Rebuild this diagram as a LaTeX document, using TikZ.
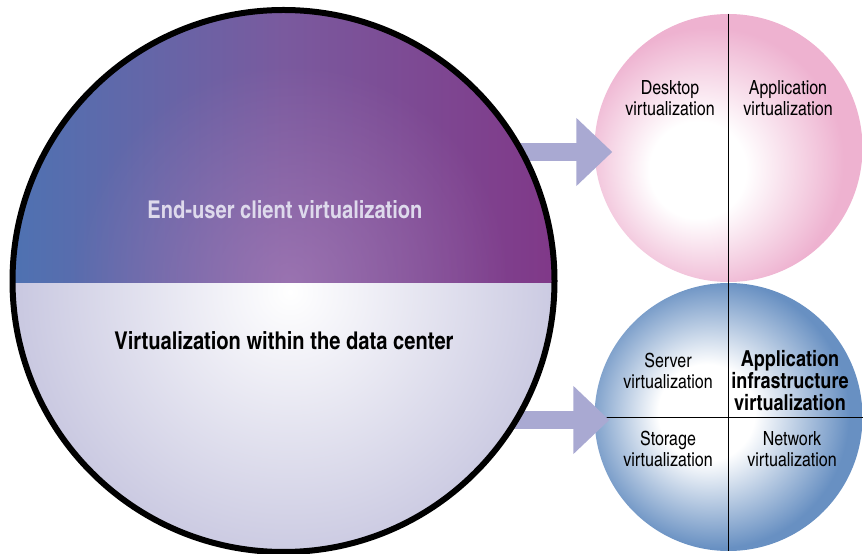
\documentclass[tikz,border=0pt]{standalone}
\usepackage{fontspec}
\setmainfont{texgyreheroscn}[Extension=.otf,UprightFont=*-regular,BoldFont=*-bold]
\usetikzlibrary{arrows.meta,calc,positioning,fadings}

\definecolor{cliblue}{HTML}{4E72B2}
\definecolor{clipurple}{HTML}{803888}
\definecolor{climid}{HTML}{7A5A9E}
\definecolor{cliglow}{HTML}{B488C0}
\definecolor{dclav}{HTML}{C6C5DF}
\definecolor{pinkedge}{HTML}{EEB2D0}
\definecolor{blueedge}{HTML}{6890C2}
\definecolor{flowcol}{HTML}{A9A9D2}
\definecolor{clitext}{HTML}{DEDAEC}

% soft balls for the two small circles
\pgfdeclareradialshading{pinkball}{\pgfpoint{-7bp}{-5bp}}{color(0bp)=(white); color(9bp)=(white); color(25bp)=(pinkedge); color(50bp)=(pinkedge)}
\pgfdeclareradialshading{blueball}{\pgfpoint{-5bp}{1bp}}{color(0bp)=(white); color(9bp)=(white); color(25bp)=(blueedge); color(50bp)=(blueedge)}
\tikzfading[name=glow, inner color=transparent!0, outer color=transparent!100]

\begin{document}
\begin{tikzpicture}[x=1pt,y=1pt,
  flow/.style={draw=flowcol,line width=18pt,-{Triangle[length=36pt,width=66pt]}},
  ring/.style={line width=6pt},
  lbl/.style={font=\fontsize{19.5}{21}\selectfont,align=center,inner sep=0pt},
  lblbold/.style={font=\bfseries\fontsize{22}{22}\selectfont,align=center,inner sep=0pt},
  big/.style={font=\bfseries\fontsize{24.5}{28}\selectfont,inner sep=0pt}]
\useasboundingbox (0,0) rectangle (868,554);

\node[circle,minimum size=542pt,inner sep=0pt] (bigc) at (283.5,273) {};
\node[circle,minimum size=268pt,inner sep=0pt,shade,shading=pinkball] (pink) at (728.5,406) {};
\node[circle,minimum size=268pt,inner sep=0pt,shade,shading=blueball] (blue) at (728.5,137) {};

% quadrant lines
\draw[line width=0.7pt] (pink.north) -- (blue.south);
\draw[line width=0.7pt] (blue.west) -- (blue.east);

% arrows
\draw[flow] ($(bigc.center |- pink.west)+(0,-4)$) -- ($(pink.west)+(18,-4)$);
\draw[flow] ($(bigc.center |- blue.west)+(0,-3)$) -- ($(blue.west)+(15,-3)$);

% top half
\begin{scope}
  \clip (bigc.center) circle (271);
  \clip (0,270) rectangle (600,554);
  \shade[left color=cliblue,right color=clipurple,middle color=climid] (12,270) rectangle (556,546);
  \fill[cliglow,opacity=0.55,path fading=glow] (290,272) circle (220);
\end{scope}
% bottom half
\begin{scope}
  \clip (bigc.center) circle (271);
  \clip (0,0) rectangle (600,270);
  \shade[inner color=white,outer color=dclav] (290,262) circle (290);
\end{scope}
\draw[ring] (bigc.center) circle (271);

% labels
\node[big,text=clitext] (client) at ($(bigc.center)+(1.5,71)$) {End-user client virtualization};
\node[big] (dc) at ($(bigc.center)+(0.5,-60)$) {Virtualization within the data center};

\node[lbl] (desk) at ($(pink.center)+(-58.5,50)$) {Desktop\\virtualization};
\node[lbl] (appv) at ($(pink.center)+(59.5,50)$) {Application\\virtualization};

\node[lbl] (serv) at ($(blue.center)+(-60.5,46)$) {Server\\virtualization};
\node[lblbold] (infra) at ($(blue.center)+(61.5,36)$) {Application\\infrastructure\\virtualization};
\node[lbl] (stor) at ($(blue.center)+(-60.5,-32)$) {Storage\\virtualization};
\node[lbl] (netw) at ($(blue.center)+(63.5,-32)$) {Network\\virtualization};
\end{tikzpicture}
\end{document}
